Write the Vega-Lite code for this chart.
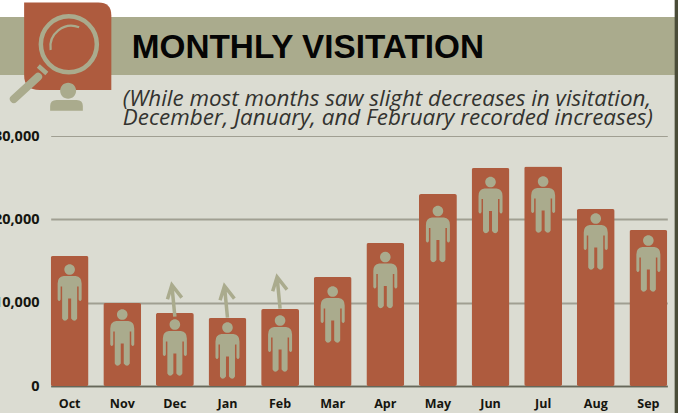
{"$schema":"https://vega.github.io/schema/vega-lite/v6.json","width":678,"height":386,"autosize":"none","padding":{"left":0,"top":0,"right":0,"bottom":27},"background":"#dbdcd2","config":{"view":{"stroke":null}},
"datasets":{"months":[
{"month":"Oct","visits":15600,"person_level":11220},
{"month":"Nov","visits":9960,"person_level":5820},
{"month":"Dec","visits":8760,"person_level":4620,"arrow_level":10200},
{"month":"Jan","visits":8160,"person_level":4260,"arrow_level":10080},
{"month":"Feb","visits":9240,"person_level":5100,"arrow_level":11160},
{"month":"Mar","visits":13080,"person_level":8580},
{"month":"Apr","visits":17160,"person_level":12720},
{"month":"May","visits":23040,"person_level":18240},
{"month":"Jun","visits":26160,"person_level":21720},
{"month":"Jul","visits":26340,"person_level":21780},
{"month":"Aug","visits":21240,"person_level":17340},
{"month":"Sep","visits":18720,"person_level":14700}],"one":[{"item":"decoration"}]},
"data":{"name":"months"},
"layer":[
{"data":{"name":"one"},"mark":{"type":"rect","fill":"#ffffff"},"encoding":{"y":{"datum":46320,"type":"quantitative"},"y2":{"datum":44280}}},
{"data":{"name":"one"},"mark":{"type":"rect","fill":"#aaab8d"},"encoding":{"y":{"datum":44280,"type":"quantitative"},"y2":{"datum":37320}}},
{"data":{"name":"one"},"mark":{"type":"point","filled":true,"fill":"#4a4c38","opacity":1,"size":4,"shape":"M26.3,-386H30V27H26.3Z"},"encoding":{"x":{"datum":"Sep"},"y":{"datum":0,"type":"quantitative"}}},
{"mark":{"type":"bar","fill":"#ae5b3e","cornerRadius":2},
 "encoding":{
 "x":{"field":"month","type":"nominal","sort":null,"scale":{"domain":["Oct","Nov","Dec","Jan","Feb","Mar","Apr","May","Jun","Jul","Aug","Sep"],"range":[50.7,667.3],"paddingInner":0.28,"paddingOuter":0},
  "axis":{"title":null,"labelAngle":0,"labelAlign":"center","ticks":false,"labelFont":"Open Sans","labelFontWeight":"bold","labelFontSize":12.5,"labelColor":"#15150f","labelPadding":17,"domainColor":"#66675a","domainWidth":1.5,"grid":false}},
 "y":{"field":"visits","type":"quantitative","scale":{"domain":[0,30000],"range":[386,136],"nice":false},
  "axis":{"title":null,"values":[0,10000,20000,30000],"format":",d","ticks":false,"domain":false,"offset":-39,"labelPadding":0,"labelFont":"Open Sans","labelFontWeight":"bold","labelFontSize":14.5,"labelColor":"#15150f","grid":true,"gridColor":"#a09f92","gridOpacity":1,"gridWidth":{"condition":{"test":"datum.value===30000","value":1},"value":2}}}}},
{"mark":{"type":"point","filled":true,"fill":"#aaab8d","opacity":1,"size":4,"shape":"M-5.3,-23A5.3,5.3 0 1,1 5.3,-23A5.3,5.3 0 1,1 -5.3,-23ZM-6,-16.5H6Q12,-16 12,-9V7Q10.5,10 9,7V-6H7.5V26Q5,30.5 1.5,26V6H-1.5V26Q-5,30.5 -7.5,26V-6H-9V7Q-10.5,10 -12,7V-9Q-12,-16 -6,-16.5Z"},
 "encoding":{"x":{"field":"month","type":"nominal","sort":null},"y":{"field":"person_level","type":"quantitative"}}},
{"mark":{"type":"point","filled":false,"stroke":"#aaab8d","strokeWidth":3.5,"opacity":1,"size":4,"shape":"M0,15.7L-3,-16M-7.4,-1.7L-3,-16L6.9,-3.3"},
 "encoding":{"x":{"field":"month","type":"nominal","sort":null},"y":{"field":"arrow_level","type":"quantitative"}}},
{"data":{"name":"one"},"mark":{"type":"point","filled":true,"fill":"#ae5b3e","opacity":1,"size":4,"shape":"M-45.5,-43.5H28.7Q41.7,-43.5 41.7,-30.5V44H-30Q-45.5,44 -45.5,29Z"},"encoding":{"x":{"datum":"Oct"},"y":{"datum":40800,"type":"quantitative"}}},
{"data":{"name":"one"},"mark":{"type":"point","filled":false,"stroke":"#aaab8d","strokeWidth":4.5,"opacity":1,"size":4,"shape":"M-28.8,-1.7A28,28 0 1,1 27.2,-1.7A28,28 0 1,1 -28.8,-1.7ZM-31.3,20L-22.8,27.5"},"encoding":{"x":{"datum":"Oct"},"y":{"datum":40800,"type":"quantitative"}}},
{"data":{"name":"one"},"mark":{"type":"point","filled":false,"stroke":"#aaab8d","strokeWidth":2.2,"opacity":1,"size":4,"shape":"M-19,4A21,21 0 0,1 9.5,-18.7"},"encoding":{"x":{"datum":"Oct"},"y":{"datum":40800,"type":"quantitative"}}},
{"data":{"name":"one"},"mark":{"type":"point","filled":false,"stroke":"#aaab8d","strokeWidth":8,"strokeCap":"round","opacity":1,"size":4,"shape":"M-31.5,30.7L-55.8,53"},"encoding":{"x":{"datum":"Oct"},"y":{"datum":40800,"type":"quantitative"}}},
{"data":{"name":"one"},"mark":{"type":"point","filled":true,"fill":"#aaab8d","opacity":1,"size":4,"shape":"M-9.5,44.7A8,8 0 1,1 6.5,44.7A8,8 0 1,1 -9.5,44.7ZM-19.5,64.7V60Q-19.5,54 -13,54H7Q13.2,54 13.2,60V64.7Z"},"encoding":{"x":{"datum":"Oct"},"y":{"datum":40800,"type":"quantitative"}}},
{"data":{"name":"one"},"mark":{"type":"text","text":"MONTHLY VISITATION","align":"left","baseline":"middle","font":"Liberation Sans","fontWeight":"bold","fontSize":33.3,"fill":"#050505","dx":62.2},"encoding":{"x":{"datum":"Oct"},"y":{"datum":40560,"type":"quantitative"}}},
{"data":{"name":"one"},"mark":{"type":"text","text":["(While most months saw slight decreases in visitation,","December, January, and February recorded increases)"],"lineHeight":19,"align":"left","baseline":"middle","font":"Open Sans","fontStyle":"italic","fontSize":22.4,"fill":"#33332f","dx":53.2},"encoding":{"x":{"datum":"Oct"},"y":{"datum":34440,"type":"quantitative"}}}
]}
